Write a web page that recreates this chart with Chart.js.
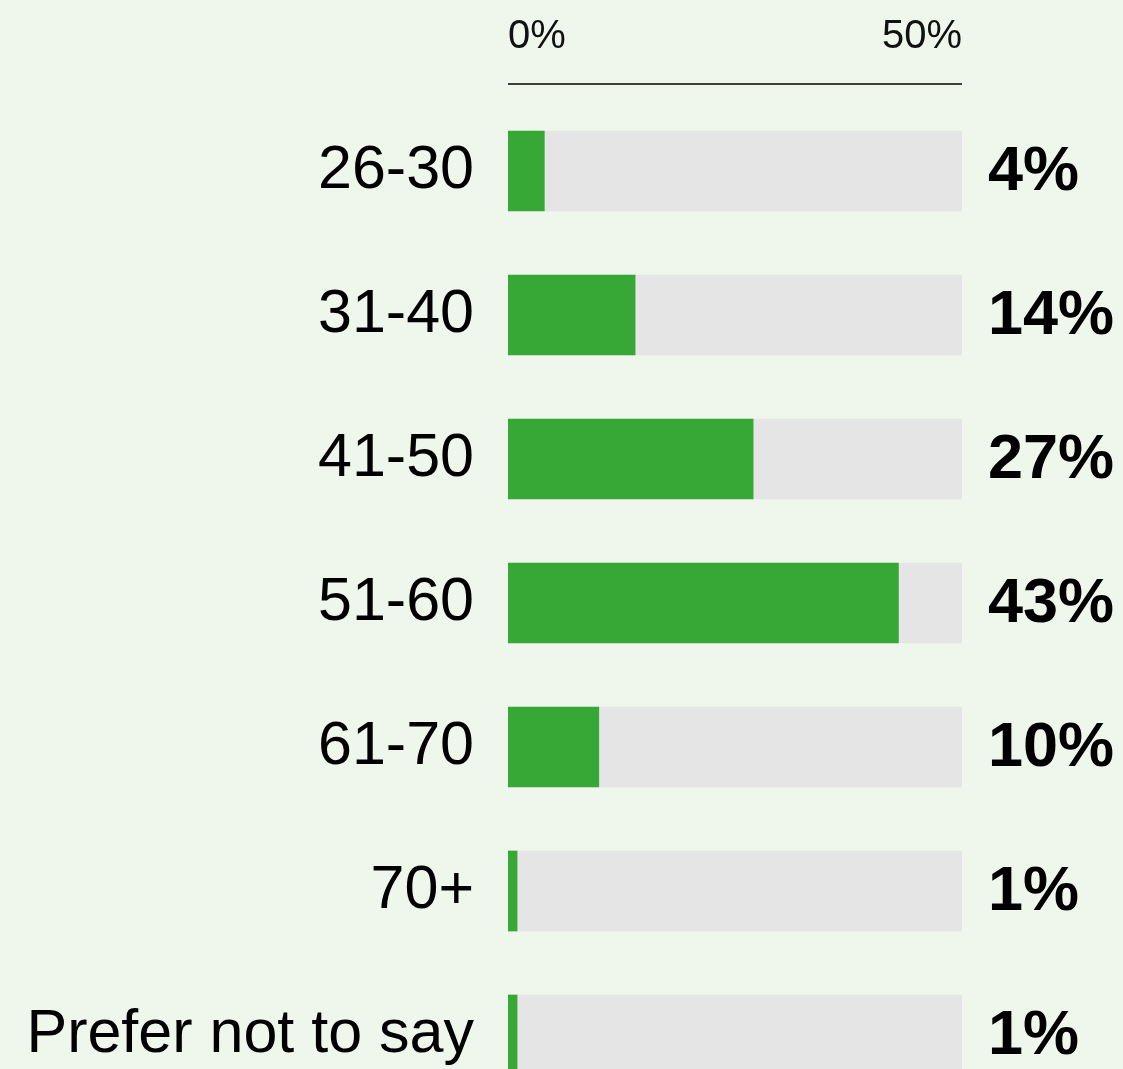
<!DOCTYPE html>
<html>
<head>
<meta charset="utf-8">
<script src="https://cdn.jsdelivr.net/npm/chart.js@4/dist/chart.umd.min.js"></script>
<style>
  html, body { margin: 0; padding: 0; background: #eff7ed; overflow: hidden; }
  #wrap { width: 1123px; height: 1107px; position: relative; }
</style>
</head>
<body>
<div id="wrap"><canvas id="ageChart"></canvas></div>
<script>
// age groups and share of respondents (%)
var ageGroups = ['26-30', '31-40', '41-50', '51-60', '61-70', '70+', 'Prefer not to say'];
var sharePct = [4, 14, 27, 43, 10, 1, 1];
var axisTicks = [0, 50];
var axisMax = 50;

var track = ageGroups.map(function () { return axisMax; });

var FONT = '"Liberation Sans", Arial, Helvetica, sans-serif';

// axis rule above the bars + bold value labels to the right
var extras = {
    id: 'extras',
    afterDraw: function (chart) {
        var ctx = chart.ctx;
        var area = chart.chartArea;
        ctx.save();
        ctx.strokeStyle = '#000';
        ctx.lineWidth = 1.5;
        ctx.beginPath();
        ctx.moveTo(area.left, area.top - 15);
        ctx.lineTo(area.right, area.top - 15);
        ctx.stroke();

        var meta = chart.getDatasetMeta(0);
        ctx.fillStyle = '#000';
        ctx.font = 'bold 63px ' + FONT;
        ctx.textAlign = 'left';
        ctx.textBaseline = 'middle';
        meta.data.forEach(function (bar, i) {
            ctx.fillText(sharePct[i] + '%', area.right + 26, bar.y + 2);
        });
        ctx.restore();
    }
};

new Chart(document.getElementById('ageChart'), {
    type: 'bar',
    data: {
        labels: ageGroups,
        datasets: [{
            data: sharePct,
            backgroundColor: '#37a836',
            grouped: false,
            barThickness: 80
        }, {
            data: track,
            backgroundColor: '#e5e5e5',
            grouped: false,
            barThickness: 80
        }]
    },
    options: {
        indexAxis: 'y',
        responsive: true,
        maintainAspectRatio: false,
        animation: false,
        layout: { padding: { left: 0, right: 161, top: 0, bottom: 0 } },
        plugins: {
            legend: { display: false },
            tooltip: { enabled: false }
        },
        scales: {
            x: {
                position: 'top',
                min: 0,
                max: axisMax,
                afterBuildTicks: function (s) {
                    s.ticks = axisTicks.map(function (v) { return { value: v }; });
                },
                afterFit: function (s) { s.height = 99; },
                grid: { display: false, drawTicks: false },
                border: { display: false },
                ticks: {
                    align: 'inner',
                    padding: 38,
                    color: '#111',
                    font: { family: FONT, size: 40 },
                    callback: function (v) { return v + '%'; }
                }
            },
            y: {
                afterFit: function (s) {
                    s.width = 508;
                    s.paddingTop = 0;
                    s.paddingBottom = 0;
                },
                grid: { display: false, drawTicks: false },
                border: { display: false },
                ticks: {
                    padding: 34,
                    color: '#000',
                    font: { family: FONT, size: 61 }
                }
            }
        }
    },
    plugins: [extras]
});
</script>
</body>
</html>
